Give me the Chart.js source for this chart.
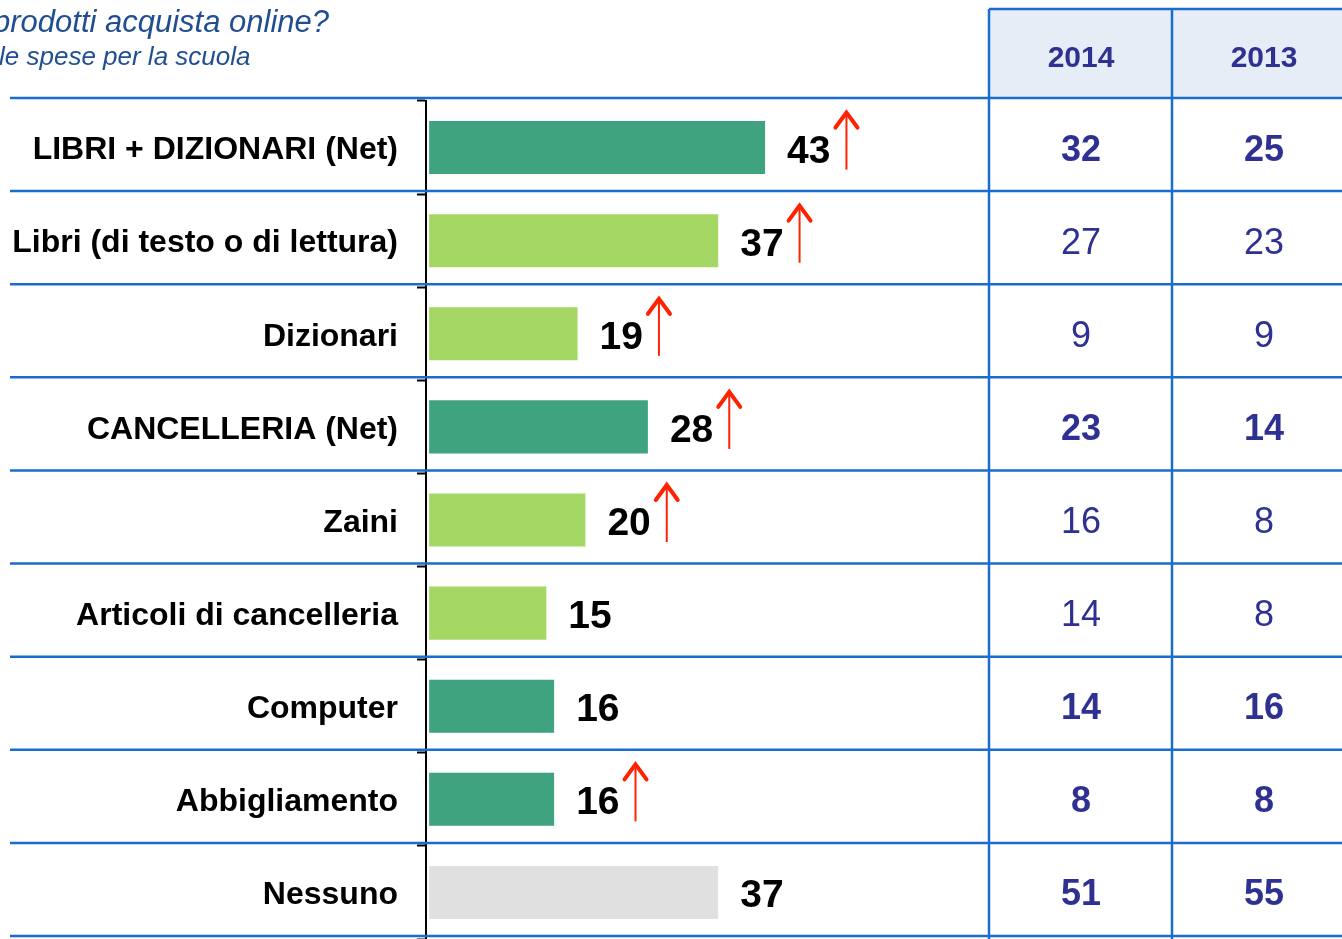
<!DOCTYPE html>
<html lang="it">
<head>
    <meta charset="UTF-8">
    <title>Prodotti acquistati online</title>
    <script src="https://cdn.jsdelivr.net/npm/chart.js"></script>
    <style>
        body {
            margin: 0;
            background-color: #ffffff;
        }
        #wrap {
            width: 1342px;
            height: 939px;
        }
    </style>
</head>
<body>
    <div id="wrap"><canvas id="chart" width="1342" height="939"></canvas></div>

    <script>
        // chart data
        const categories = [
            'LIBRI + DIZIONARI (Net)',
            'Libri (di testo o di lettura)',
            'Dizionari',
            'CANCELLERIA (Net)',
            'Zaini',
            'Articoli di cancelleria',
            'Computer',
            'Abbigliamento',
            'Nessuno'
        ];
        const values = [43, 37, 19, 28, 20, 15, 16, 16, 37];
        const barKind = ['net', 'item', 'item', 'net', 'item', 'item', 'net', 'net', 'none'];
        const rising = [true, true, true, true, true, false, false, true, false];

        // table on the right
        const years = ['2014', '2013'];
        const values2014 = [32, 27, 9, 23, 16, 14, 14, 8, 51];
        const values2013 = [25, 23, 9, 14, 8, 8, 16, 8, 55];
        const boldRow = [true, false, false, true, false, false, true, true, true];

        const titleText = 'prodotti acquista online?';
        const subtitleText = 'le spese per la scuola';

        const FONT = '"Liberation Sans", Arial, sans-serif';
        const BLUE = '#1a6dcc';
        const NAVY = '#2e3192';
        const kindColors = { net: '#3ea37e', item: '#a4d763', none: '#e0e0e0' };

        const overlay = {
            id: 'overlay',
            beforeDatasetsDraw(chart) {
                const ctx = chart.ctx;
                const area = chart.chartArea;
                const rowH = area.height / categories.length;
                const colLines = [989, 1172];
                const colCenters = [1081, 1264];

                ctx.save();
                // title (cut at the left edge like the slide)
                ctx.fillStyle = '#1f4e91';
                ctx.textAlign = 'left';
                ctx.textBaseline = 'alphabetic';
                ctx.font = 'italic 31px ' + FONT;
                ctx.fillText(titleText, -7, 32);
                ctx.font = 'italic 26px ' + FONT;
                ctx.fillText(subtitleText, -1, 65);

                // table header
                const headTop = 9;
                const headBottom = area.top - 3;
                ctx.fillStyle = '#e6edf6';
                ctx.fillRect(colLines[0], headTop, chart.width - colLines[0], headBottom - headTop);
                ctx.fillStyle = NAVY;
                ctx.font = 'bold 30px ' + FONT;
                ctx.textAlign = 'center';
                years.forEach((y, i) => ctx.fillText(y, colCenters[i], 67));

                // blue rules
                ctx.strokeStyle = BLUE;
                ctx.lineWidth = 2.5;
                ctx.beginPath();
                ctx.moveTo(colLines[0], headTop);
                ctx.lineTo(chart.width, headTop);
                for (let i = 0; i <= categories.length; i++) {
                    const y = Math.min(area.top + i * rowH - 3, chart.height - 1.5);
                    ctx.moveTo(10, y);
                    ctx.lineTo(chart.width, y);
                }
                colLines.forEach(x => {
                    ctx.moveTo(x, headTop);
                    ctx.lineTo(x, chart.height);
                });
                ctx.stroke();
                ctx.restore();
            },
            afterDatasetsDraw(chart) {
                const ctx = chart.ctx;
                const bars = chart.getDatasetMeta(0).data;
                const colCenters = [1081, 1264];

                ctx.save();
                bars.forEach((bar, i) => {
                    // value label
                    ctx.font = 'bold 39px ' + FONT;
                    ctx.fillStyle = '#000000';
                    ctx.textAlign = 'left';
                    ctx.textBaseline = 'alphabetic';
                    const label = String(values[i]);
                    const lx = bar.x + 22;
                    ctx.fillText(label, lx, bar.y + 15);

                    // red arrow for significant increase
                    if (rising[i]) {
                        const ax = lx + ctx.measureText(label).width + 16;
                        const top = bar.y - 37;
                        const bottom = bar.y + 22;
                        ctx.strokeStyle = '#ff2200';
                        ctx.lineWidth = 2;
                        ctx.beginPath();
                        ctx.moveTo(ax, bottom);
                        ctx.lineTo(ax, top + 2);
                        ctx.stroke();
                        ctx.lineWidth = 4;
                        ctx.lineCap = 'round';
                        ctx.beginPath();
                        ctx.moveTo(ax - 11, top + 17);
                        ctx.lineTo(ax, top + 2);
                        ctx.lineTo(ax + 11, top + 17);
                        ctx.stroke();
                        ctx.lineCap = 'butt';
                    }

                    // table values
                    ctx.fillStyle = NAVY;
                    ctx.textAlign = 'center';
                    ctx.font = (boldRow[i] ? 'bold ' : '') + '36px ' + FONT;
                    ctx.fillText(String(values2014[i]), colCenters[0], bar.y + 13);
                    ctx.fillText(String(values2013[i]), colCenters[1], bar.y + 13);
                });
                ctx.restore();
            }
        };

        new Chart(document.getElementById('chart'), {
            type: 'bar',
            data: {
                labels: categories,
                datasets: [{
                    data: values,
                    backgroundColor: barKind.map(k => kindColors[k]),
                    borderWidth: 0,
                    barPercentage: 0.57,
                    categoryPercentage: 1
                }]
            },
            options: {
                indexAxis: 'y',
                responsive: false,
                animation: false,
                devicePixelRatio: 1,
                layout: {
                    padding: { top: 101, bottom: 0, left: 0, right: 366 }
                },
                plugins: {
                    legend: { display: false },
                    tooltip: { enabled: false }
                },
                scales: {
                    x: {
                        display: false,
                        min: -0.4,
                        max: 70
                    },
                    y: {
                        afterFit: (scale) => {
                            scale.width = 426;
                            scale.paddingTop = 0;
                            scale.paddingBottom = 0;
                        },
                        grid: {
                            drawOnChartArea: false,
                            drawTicks: true,
                            tickLength: 9,
                            tickColor: '#000000',
                            tickWidth: 2,
                            offset: true
                        },
                        border: { display: true, color: '#000000', width: 2 },
                        ticks: {
                            autoSkip: false,
                            padding: 19,
                            labelOffset: 3,
                            color: '#000000',
                            font: { family: FONT, size: 32, weight: 'bold' }
                        }
                    }
                }
            },
            plugins: [overlay]
        });
    </script>
</body>
</html>
